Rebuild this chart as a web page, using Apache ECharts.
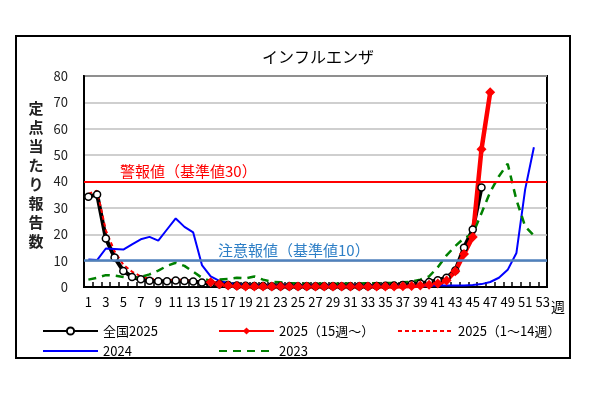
<!DOCTYPE html>
<html>
<head>
<meta charset="utf-8">
<script src="https://cdn.jsdelivr.net/npm/echarts@6/dist/echarts.min.js"></script>
<style>
html,body{margin:0;padding:0;background:#fff;}
#chart{width:600px;height:395px;}
</style>
</head>
<body>
<div id="chart"></div>
<script>
const weeks = ['1','2','3','4','5','6','7','8','9','10','11','12','13','14','15','16','17','18','19','20','21','22','23','24','25','26','27','28','29','30','31','32','33','34','35','36','37','38','39','40','41','42','43','44','45','46','47','48','49','50','51','52','53'];

const national2025 = [34.2,35.1,18.4,11.2,6.1,3.8,2.9,2.4,2.2,2.2,2.5,2.3,2.1,1.7,1.3,1.0,0.8,0.6,0.5,0.4,0.4,0.3,0.3,0.3,0.3,0.3,0.3,0.3,0.3,0.3,0.3,0.3,0.3,0.4,0.5,0.6,0.8,1.0,1.3,1.9,2.6,3.5,6.3,14.9,21.8,37.7];

const pref2025from15 = [null,null,null,null,null,null,null,null,null,null,null,null,null,null,1.8,1.0,0.6,0.4,0.2,0.2,0.2,0.2,0.2,0.2,0.2,0.2,0.2,0.2,0.2,0.2,0.2,0.2,0.2,0.2,0.2,0.2,0.3,0.4,0.6,0.9,1.3,2.5,6.0,12.5,19.0,52.2,73.8];

const pref2025to14 = [35.3,36.5,21.5,13.5,8.5,5.8,4.0,3.2,2.8,2.6,2.8,2.6,2.4,2.0];

const y2024 = [10.4,10.2,14.6,14.4,14.2,16.2,18.1,19.0,17.6,21.8,26.0,22.8,20.7,8.3,4.0,2.3,1.5,1.0,0.8,0.7,0.6,0.6,0.6,0.6,0.6,0.6,0.6,0.6,0.6,0.6,0.6,0.6,0.6,0.6,0.6,0.6,0.6,0.6,0.6,0.6,0.6,0.6,0.6,0.6,0.8,1.1,1.9,3.5,6.5,12.9,37.0,53.0];

const y2023 = [2.8,3.5,4.5,4.3,3.8,3.3,3.8,4.8,6.2,8.0,9.2,8.0,5.8,3.5,2.2,2.8,3.0,3.5,3.3,4.0,2.8,2.0,1.8,1.5,1.3,1.2,1.2,1.2,1.2,1.3,1.3,1.3,1.4,1.4,1.5,1.6,1.8,2.0,2.8,4.0,7.5,12.0,15.5,18.5,20.0,28.0,36.0,42.0,46.7,33.0,23.0,19.5];

const yTicks = {min:0, max:80, interval:10};
const alertLevel = 40;
const warnLevel = 10;
const alertLabel = '警報値（基準値30）';
const warnLabel = '注意報値（基準値10）';
const seriesNames = ['全国2025','2025（15週～）','2025（1～14週）','2024','2023'];

const FONT = '"Noto Sans CJK JP", "Noto Sans", sans-serif';
const chart = echarts.init(document.getElementById('chart'), null, {renderer:'canvas'});

function legendAt(name, left, top, hideSymbol){
  const item = hideSymbol ? {name:name, itemStyle:{opacity:0}} : {name:name};
  return {
    data:[item], left:left, top:top, padding:0, itemWidth:55, itemHeight:9,
    textStyle:{fontFamily:FONT, fontSize:13, color:'#000'}, selectedMode:false
  };
}

const option = {
  animation:false,
  backgroundColor:'#fff',
  textStyle:{fontFamily:FONT},
  title:{text:'インフルエンザ', left:313, top:44, textAlign:'center',
    textStyle:{fontFamily:FONT, fontSize:16, fontWeight:'normal', color:'#000'}},
  legend:[
    legendAt(seriesNames[0], 42, 324.5, false),
    legendAt(seriesNames[1], 218, 324.5, false),
    legendAt(seriesNames[2], 397, 324.5, true),
    legendAt(seriesNames[3], 42, 344.5, true),
    legendAt(seriesNames[4], 218, 344.5, true)
  ],
  grid:{left:84, right:53, top:76, bottom:108, show:true, borderColor:'#000', borderWidth:2, containLabel:false},
  xAxis:{
    type:'category', data:weeks, boundaryGap:true,
    axisLine:{lineStyle:{color:'#000', width:2}},
    axisTick:{show:true, inside:true, length:5, interval:0, lineStyle:{color:'#000', width:1.5}},
    axisLabel:{interval:1, margin:9, fontSize:13, color:'#000', fontFamily:FONT},
    splitLine:{show:false}
  },
  yAxis:{
    type:'value', min:yTicks.min, max:yTicks.max, interval:yTicks.interval,
    axisLine:{show:true, lineStyle:{color:'#000', width:2}},
    axisTick:{show:false},
    axisLabel:{margin:16, fontSize:13, color:'#222', fontFamily:FONT},
    splitLine:{lineStyle:{color:'#bfbfbf', width:1.5}}
  },
  graphic:[
    {type:'rect', shape:{x:16, y:36, width:554, height:322}, style:{fill:'none', stroke:'#000', lineWidth:2}, z:-1},
    {type:'text', x:36, y:175, style:{text:'定点当たり報告数'.split('').join('\n'), fontFamily:FONT, fontSize:15, fontWeight:'bold', lineHeight:19, fill:'#222', align:'center', verticalAlign:'middle'}},
    {type:'text', x:558, y:307, style:{text:'週', fontFamily:FONT, fontSize:14, fill:'#000', align:'center', verticalAlign:'middle'}}
  ],
  series:[
    {
      name:'ref', type:'line', data:[], silent:true,
      markLine:{
        silent:true, symbol:'none', animation:false,
        data:[
          {yAxis:alertLevel, lineStyle:{color:'#ff0000', width:2, type:'solid'},
           label:{show:true, formatter:alertLabel, position:'insideStartTop', color:'#ff0000', fontSize:15, fontFamily:FONT, padding:[0,0,0,33], distance:3}},
          {yAxis:warnLevel, lineStyle:{color:'#4f81bd', width:2.5, type:'solid'},
           label:{show:true, formatter:warnLabel, position:'insideStartTop', color:'#2e7fc6', fontSize:15, fontFamily:FONT, padding:[0,0,0,131], distance:3}}
        ]
      }
    },
    {
      name:seriesNames[0], type:'line', data:national2025,
      symbol:'circle', symbolSize:7, showSymbol:true, showAllSymbol:true,
      lineStyle:{color:'#000', width:4},
      itemStyle:{color:'#fff', borderColor:'#000', borderWidth:1.5}
    },
    {
      name:seriesNames[1], type:'line', data:pref2025from15,
      symbol:'diamond', symbolSize:10, showSymbol:true, showAllSymbol:true,
      lineStyle:{color:'#ff0000', width:4.5},
      itemStyle:{color:'#ff0000'}
    },
    {
      name:seriesNames[2], type:'line', data:pref2025to14,
      symbol:'none', showSymbol:false,
      lineStyle:{color:'#ff0000', width:2, type:[4,3]},
      itemStyle:{color:'#ff0000'}
    },
    {
      name:seriesNames[3], type:'line', data:y2024,
      symbol:'none', showSymbol:false,
      lineStyle:{color:'#0000ff', width:2},
      itemStyle:{color:'#0000ff'}
    },
    {
      name:seriesNames[4], type:'line', data:y2023,
      symbol:'none', showSymbol:false,
      lineStyle:{color:'#008000', width:2.5, type:[8,6]},
      itemStyle:{color:'#008000'}
    }
  ]
};
chart.setOption(option);
</script>
</body>
</html>
